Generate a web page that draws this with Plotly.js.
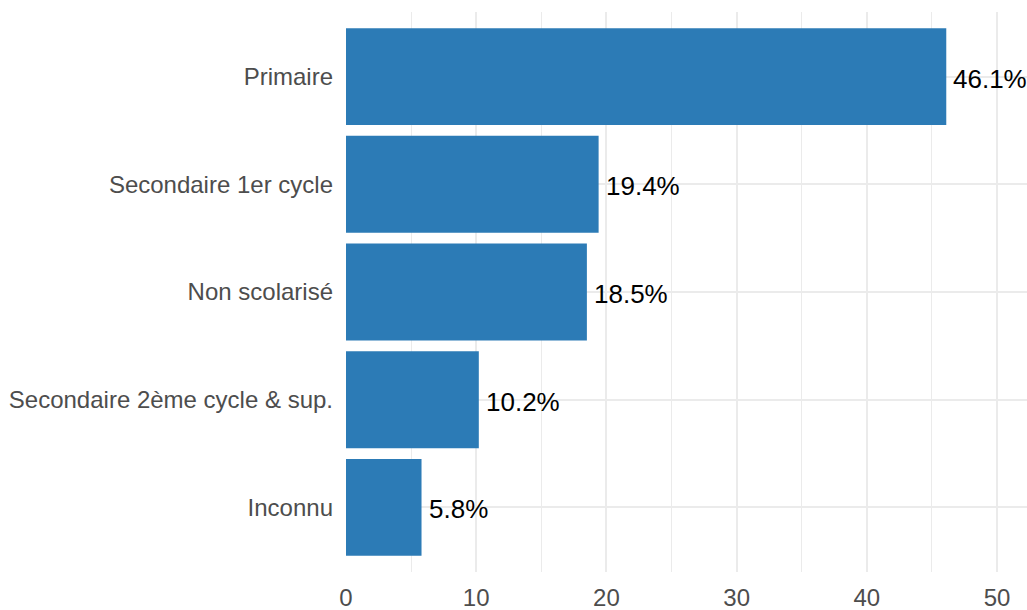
<!DOCTYPE html>
<html>
<head>
<meta charset="utf-8">
<script src="https://cdn.plot.ly/plotly-3.0.1.min.js"></script>
<style>html,body{margin:0;padding:0;background:#fff;}#chart{width:1027px;height:610px;}</style>
</head>
<body>
<div id="chart"></div>
<script>
// Data (top to bottom in the chart)
const categories = ["Primaire", "Secondaire 1er cycle", "Non scolarisé", "Secondaire 2ème cycle & sup.", "Inconnu"];
const values = [46.1, 19.4, 18.5, 10.2, 5.8];
const labels = ["46.1%", "19.4%", "18.5%", "10.2%", "5.8%"];
const xTicks = [0, 10, 20, 30, 40, 50];

const barTrace = {
  type: 'bar',
  orientation: 'h',
  x: values,
  y: categories,
  width: 0.9,
  marker: {color: '#2C7BB6', line: {width: 0}},
  hoverinfo: 'skip'
};

const annotations = values.map((v, i) => ({
  x: v, y: categories[i], xref: 'x', yref: 'y',
  text: labels[i], showarrow: false,
  xanchor: 'left', yanchor: 'middle',
  xshift: 5, yshift: -2,
  font: {family: 'Liberation Sans, Arial, sans-serif', size: 26, color: '#000000'}
}));

const layout = {
  width: 1027, height: 610,
  margin: {l: 346, r: 0, t: 12, b: 38, pad: 0},
  paper_bgcolor: '#ffffff', plot_bgcolor: '#ffffff',
  showlegend: false,
  font: {family: 'Liberation Sans, Arial, sans-serif'},
  xaxis: {
    range: [0, 52.3],
    tickvals: xTicks,
    ticktext: xTicks.map(String),
    showgrid: true, gridcolor: '#EBEBEB', gridwidth: 2,
    minor: {dtick: 5, tick0: 0, showgrid: true, gridcolor: '#EBEBEB', gridwidth: 1},
    zeroline: false, showline: false, ticks: '',
    ticklabelstandoff: 9,
    tickfont: {size: 24, color: '#4D4D4D'}
  },
  yaxis: {
    type: 'category',
    categoryorder: 'array',
    categoryarray: categories.slice().reverse(),
    range: [-0.6, 4.6],
    showgrid: true, gridcolor: '#EBEBEB', gridwidth: 2,
    zeroline: false, showline: false, ticks: '',
    ticklabelstandoff: 12,
    tickfont: {size: 24, color: '#4D4D4D'}
  },
  annotations: annotations,
  bargap: 0.1
};

Plotly.newPlot('chart', [barTrace], layout, {displayModeBar: false, staticPlot: true});
</script>
</body>
</html>
